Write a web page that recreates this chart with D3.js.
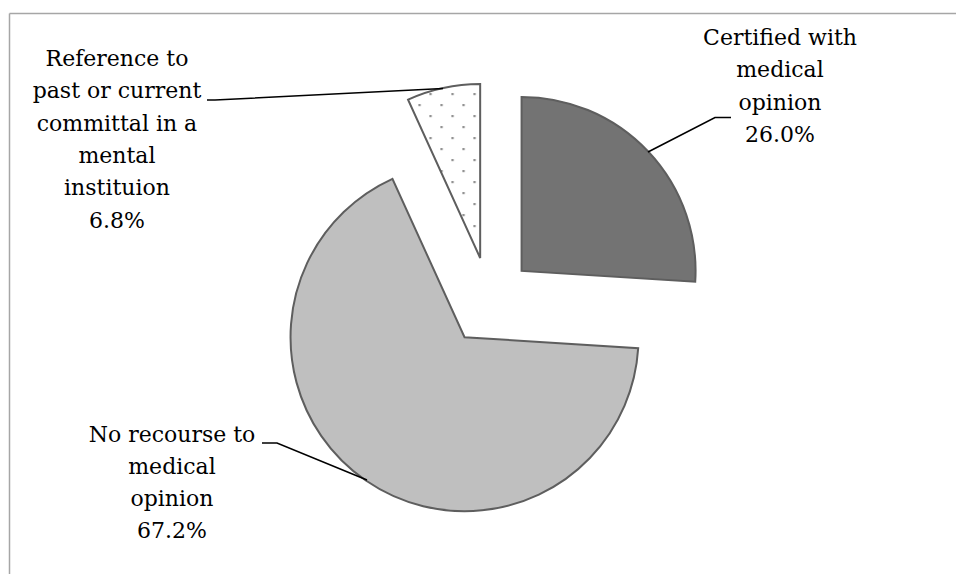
<!DOCTYPE html>
<html>
<head>
<meta charset="utf-8">
<script src="https://cdn.jsdelivr.net/npm/d3@7"></script>
<style>
  html, body { margin: 0; padding: 0; background: #fff; }
  svg { display: block; }
</style>
</head>
<body>
<svg id="chart" width="956" height="583"></svg>
<script>
// ---- data ----
const categories = ["Certified with medical opinion", "No recourse to medical opinion", "Reference to past or current committal in a mental instituion"];
const values = [26.0, 67.2, 6.8];
const labelLines = [
  ["Certified with", "medical", "opinion", "26.0%"],
  ["No recourse to", "medical", "opinion", "67.2%"],
  ["Reference to", "past or current", "committal in a", "mental", "instituion", "6.8%"]
];
const fills = ["#737373", "#bfbfbf", "url(#dots)"];

// ---- layout ----
const svg = d3.select("#chart");
const W = 956, H = 583;
const cx = 489.5, cy = 301, R = 174, explode = 44;

// frame (only top and left edges visible)
svg.append("line").attr("x1", 9.5).attr("y1", 13.5).attr("x2", W).attr("y2", 13.5)
  .attr("stroke", "#a6a6a6").attr("stroke-width", 1.5);
svg.append("line").attr("x1", 9.5).attr("y1", 13.5).attr("x2", 9.5).attr("y2", 574)
  .attr("stroke", "#a6a6a6").attr("stroke-width", 1.5);

// dot pattern
const defs = svg.append("defs");
const pat = defs.append("pattern").attr("id", "dots")
  .attr("patternUnits", "userSpaceOnUse").attr("width", 22).attr("height", 22);
pat.append("rect").attr("width", 22).attr("height", 22).attr("fill", "#fff");
pat.append("rect").attr("x", 15.3).attr("y", 11).attr("width", 2.2).attr("height", 2.2).attr("fill", "#8c8c8c");
pat.append("rect").attr("x", 4.3).attr("y", 0).attr("width", 2.2).attr("height", 2.2).attr("fill", "#8c8c8c");

const pie = d3.pie().sort(null).startAngle(0).endAngle(2 * Math.PI);
const arcs = pie(values);
const arc = d3.arc().innerRadius(0).outerRadius(R);

const g = svg.append("g").attr("transform", `translate(${cx},${cy})`);
g.selectAll("path.slice").data(arcs).enter().append("path")
  .attr("class", "slice")
  .attr("d", arc)
  .attr("transform", d => {
    const a = (d.startAngle + d.endAngle) / 2;
    return `translate(${explode * Math.sin(a)},${-explode * Math.cos(a)})`;
  })
  .attr("fill", (d, i) => fills[i])
  .attr("stroke", "#5e5e5e")
  .attr("stroke-width", 2)
  .attr("stroke-linejoin", "miter");

// leader lines
const leaders = [
  [[731, 117.5], [715, 117.5], [648, 152]],
  [[262, 443], [277, 443], [367, 480]],
  [[207, 100], [215, 100], [443, 88.5]]
];
svg.selectAll("path.leader").data(leaders).enter().append("path")
  .attr("class", "leader")
  .attr("d", d => d3.line()(d))
  .attr("fill", "none").attr("stroke", "#000").attr("stroke-width", 1.6);

// labels
const labelPos = [[780, 45], [172, 441.5], [117, 66]];
const lineH = 32.3;
labelLines.forEach((lines, i) => {
  const t = svg.append("text")
    .attr("x", labelPos[i][0]).attr("y", labelPos[i][1])
    .attr("text-anchor", "middle")
    .attr("font-family", "'DejaVu Serif', serif")
    .attr("font-size", 22)
    .attr("fill", "#000");
  lines.forEach((ln, j) => {
    t.append("tspan").attr("x", labelPos[i][0]).attr("y", labelPos[i][1] + j * lineH).text(ln);
  });
});
</script>
</body>
</html>
